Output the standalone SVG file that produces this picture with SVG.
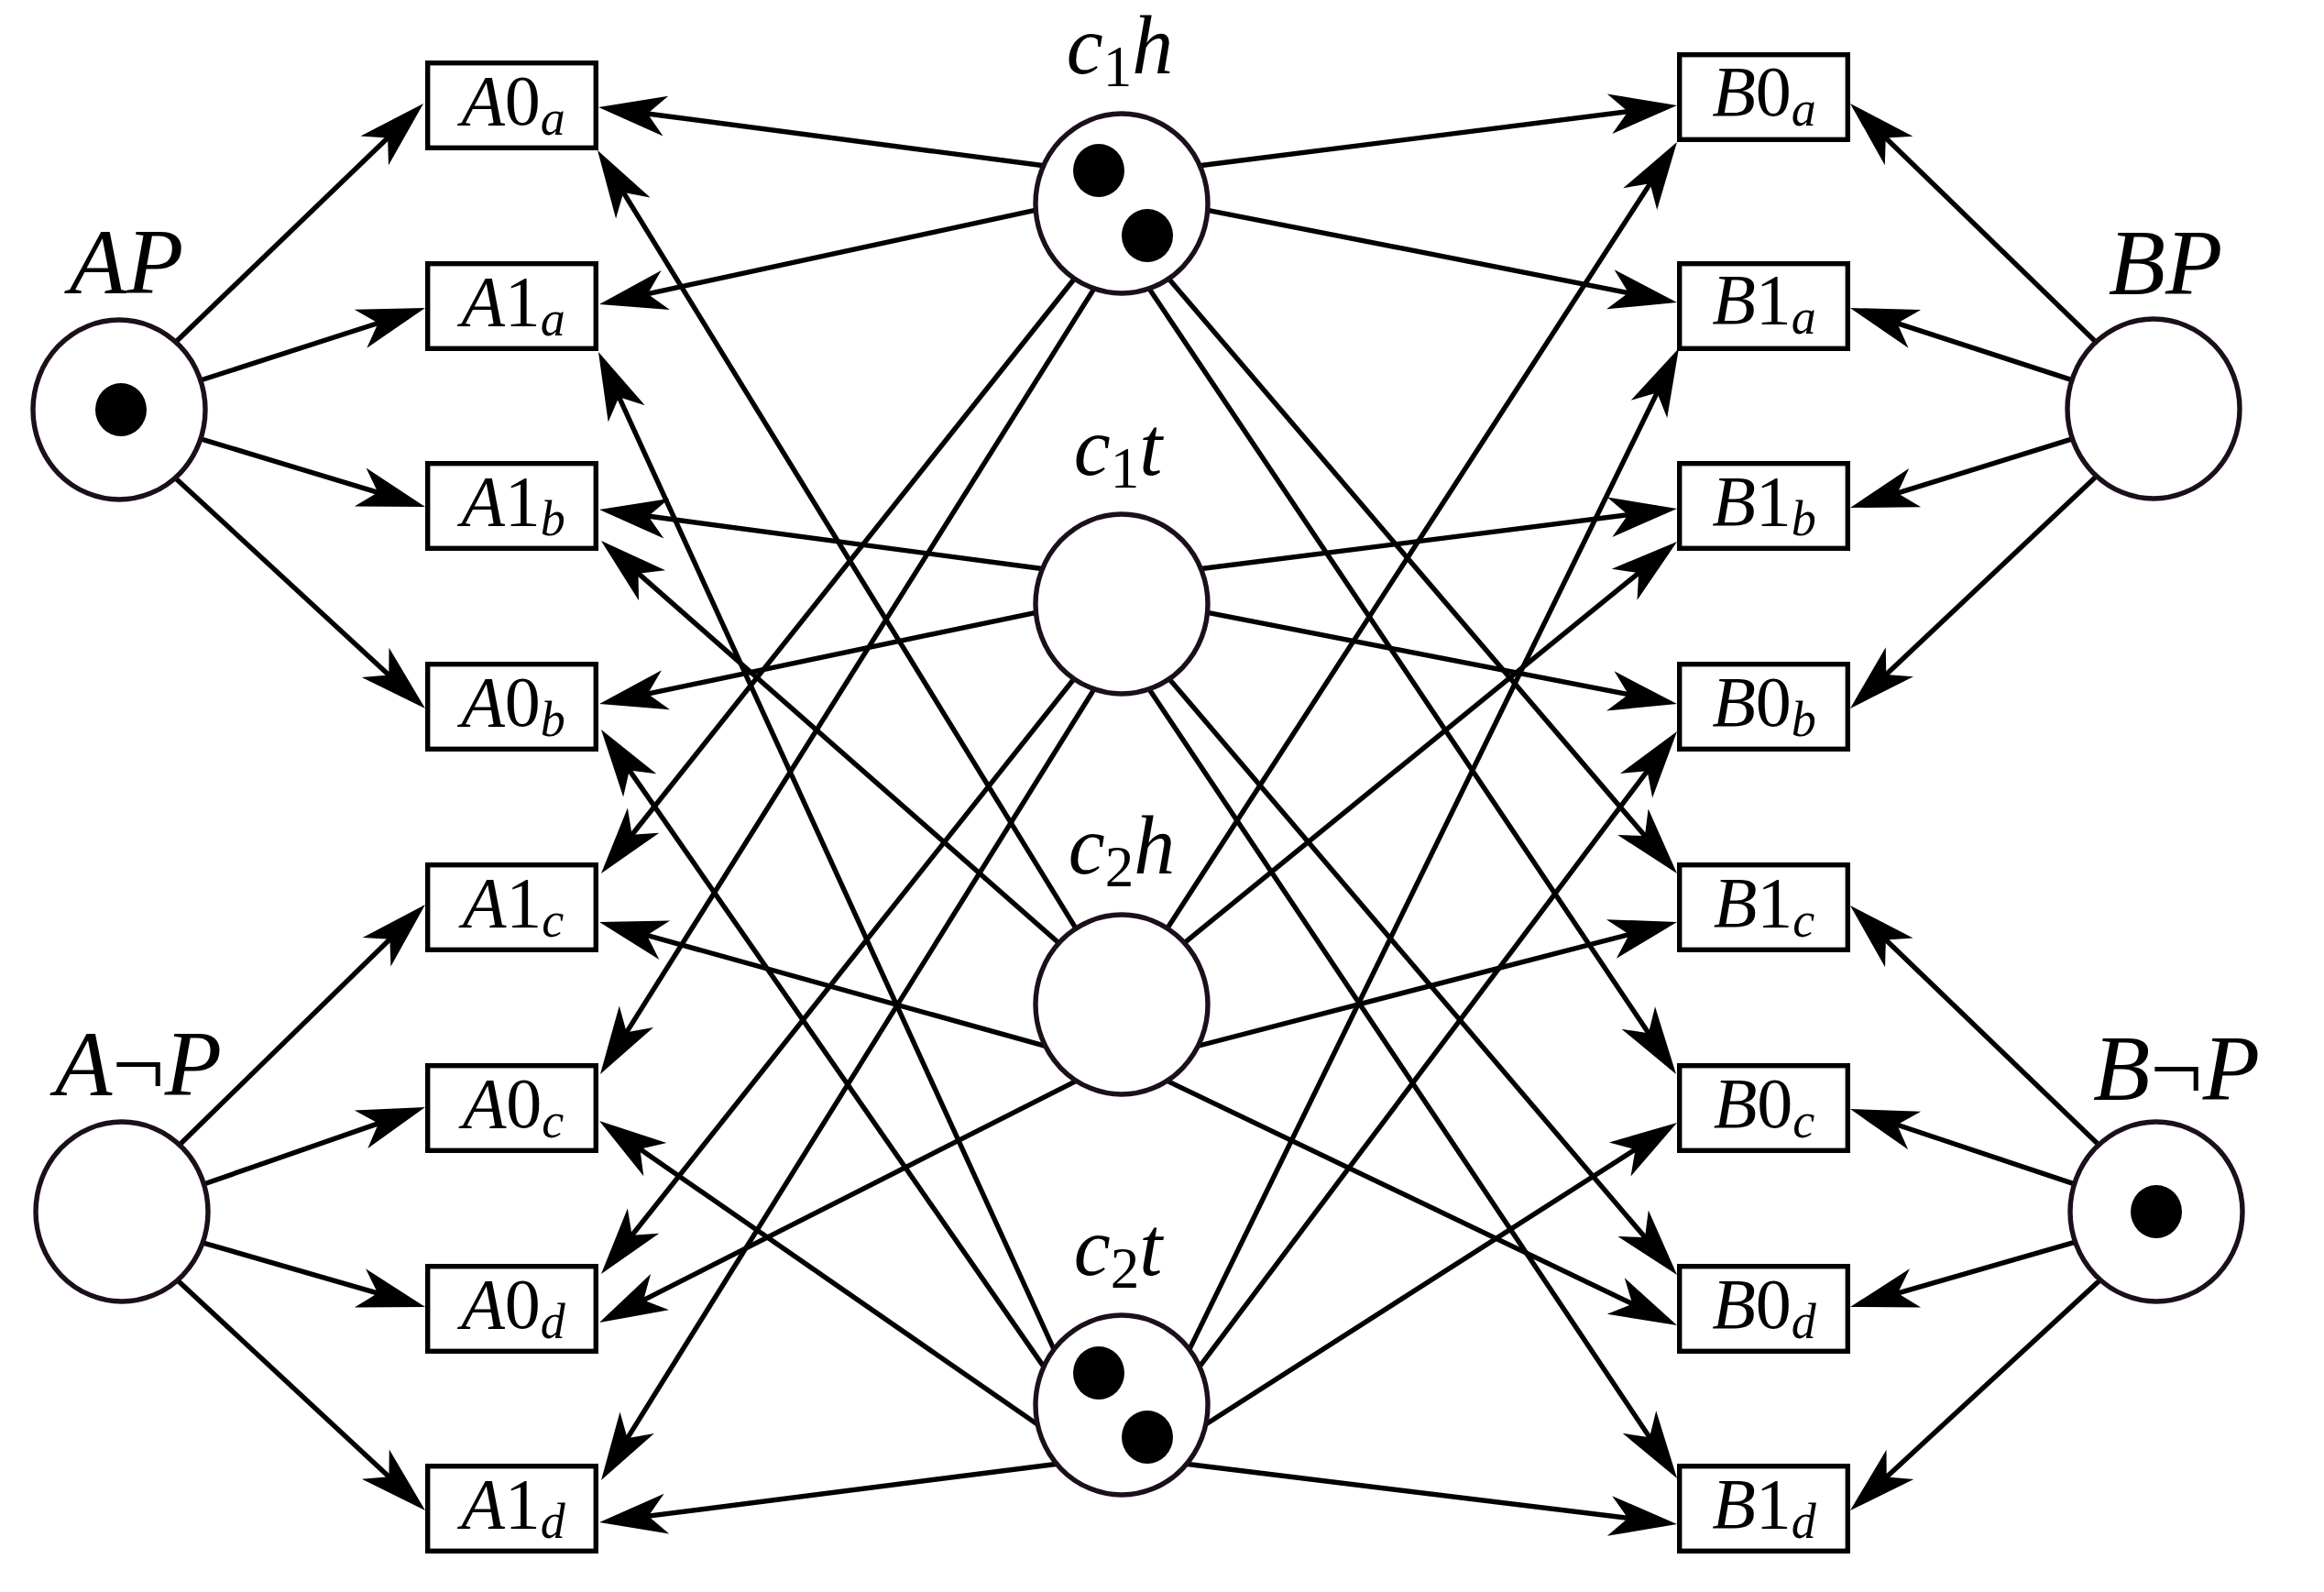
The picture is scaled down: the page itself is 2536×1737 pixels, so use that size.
<svg xmlns="http://www.w3.org/2000/svg" width="2536" height="1737" viewBox="0 0 2536 1737">
<defs>
<marker id="ah" viewBox="-40 -25 85 50" markerWidth="85" markerHeight="50" refX="0" refY="0" orient="auto" markerUnits="userSpaceOnUse"><path d="M40,0 L-34,-22 L-14,0 L-34,22 Z" fill="#000"/></marker>
</defs>
<style>
.e line{stroke:#000;stroke-width:5.4;fill:none;marker-end:url(#ah)}
.pl{fill:#fff;stroke:#1c0f1c;stroke-width:5.4}
.tr{fill:#fff;stroke:#000;stroke-width:5.4}
.tk{fill:#000}
text{font-family:"Liberation Serif","DejaVu Serif",serif;font-style:italic;text-anchor:middle;fill:#000}
.bl{font-size:78px}
.pt{font-size:102px}
.cl{font-size:90px}
.up{font-style:normal}
</style>
<rect width="2536" height="1737" fill="#fff"/>
<g id="connectors" class="e">
<line x1="191.7" y1="373.2" x2="433.2" y2="140.7"/>
<line x1="219.3" y1="414.8" x2="425.9" y2="348.3"/>
<line x1="217.3" y1="478.3" x2="425.7" y2="541.4"/>
<line x1="189.6" y1="519.9" x2="434.6" y2="745.9"/>
<line x1="194.7" y1="1250.2" x2="435.4" y2="1015"/>
<line x1="222.3" y1="1292" x2="426.2" y2="1221.1"/>
<line x1="219.2" y1="1355.3" x2="425.6" y2="1414.9"/>
<line x1="191.6" y1="1394.9" x2="434.7" y2="1620.8"/>
<line x1="2289.3" y1="375.2" x2="2047.7" y2="140.8"/>
<line x1="2261.7" y1="414.9" x2="2057" y2="348.4"/>
<line x1="2263.7" y1="478.2" x2="2057.2" y2="542.2"/>
<line x1="2289.4" y1="517.9" x2="2048.1" y2="745.5"/>
<line x1="2291.3" y1="1250.2" x2="2047.8" y2="1015.7"/>
<line x1="2263.7" y1="1291.9" x2="2056.9" y2="1222.7"/>
<line x1="2263.8" y1="1355.3" x2="2057.4" y2="1414.9"/>
<line x1="2291.4" y1="1396.9" x2="2048.4" y2="1620.9"/>
<line x1="1139" y1="180.8" x2="692.7" y2="122.2"/>
<line x1="1132.9" y1="228.7" x2="693.1" y2="323.6"/>
<line x1="1174.7" y1="301.3" x2="680.9" y2="921.7"/>
<line x1="1195.2" y1="312.9" x2="676.3" y2="1138.1"/>
<line x1="1309" y1="180.8" x2="1790.3" y2="120"/>
<line x1="1315.1" y1="228.8" x2="1790.7" y2="322.3"/>
<line x1="1273.1" y1="301.4" x2="1804" y2="922.6"/>
<line x1="1252.7" y1="313" x2="1806.7" y2="1138.8"/>
<line x1="1138.9" y1="620.8" x2="693.6" y2="561.3"/>
<line x1="1132.9" y1="667.8" x2="693.2" y2="759.8"/>
<line x1="1174.7" y1="737.3" x2="680.9" y2="1358.7"/>
<line x1="1195.2" y1="749.9" x2="677.2" y2="1581.1"/>
<line x1="1309" y1="620.8" x2="1790.3" y2="560"/>
<line x1="1315.1" y1="667.9" x2="1790.7" y2="760.4"/>
<line x1="1273.1" y1="737.4" x2="1804.1" y2="1360.6"/>
<line x1="1252.7" y1="750" x2="1807.8" y2="1579.8"/>
<line x1="1174.1" y1="1013.1" x2="673" y2="198.1"/>
<line x1="1155.5" y1="1029" x2="686" y2="616.4"/>
<line x1="1141.8" y1="1141.6" x2="692.5" y2="1016.7"/>
<line x1="1176.4" y1="1178.3" x2="689.7" y2="1424.9"/>
<line x1="1273.7" y1="1013" x2="1808.2" y2="188.6"/>
<line x1="1292.3" y1="1028.8" x2="1799" y2="616.3"/>
<line x1="1306.2" y1="1141.5" x2="1791.3" y2="1016"/>
<line x1="1271.6" y1="1178.4" x2="1793.9" y2="1428.7"/>
<line x1="1151.5" y1="1475.5" x2="669.6" y2="420.4"/>
<line x1="1139.4" y1="1491.9" x2="678.8" y2="828.9"/>
<line x1="1133.9" y1="1555.4" x2="686.9" y2="1245.8"/>
<line x1="1154" y1="1597.2" x2="693.7" y2="1655.9"/>
<line x1="1296.4" y1="1475.4" x2="1814.4" y2="415.9"/>
<line x1="1308.4" y1="1491.8" x2="1806" y2="830"/>
<line x1="1313.9" y1="1555.2" x2="1796.3" y2="1246.6"/>
<line x1="1294" y1="1597.3" x2="1790.3" y2="1658.1"/>
</g>
<g id="AP"><ellipse class="pl" cx="130" cy="447" rx="94" ry="98"/><ellipse class="tk" cx="132" cy="447" rx="28" ry="29"/><text class="pt" x="138" y="320">AP</text></g>
<g id="AnotP"><ellipse class="pl" cx="133" cy="1322" rx="94" ry="98"/><text class="pt" x="151" y="1195">A<tspan class="up">¬</tspan>P</text></g>
<g id="BP"><ellipse class="pl" cx="2350" cy="446" rx="94" ry="98"/><text class="pt" x="2363" y="321">BP</text></g>
<g id="BnotP"><ellipse class="pl" cx="2353" cy="1322" rx="94" ry="98"/><ellipse class="tk" cx="2353" cy="1322" rx="28" ry="29"/><text class="pt" x="2375" y="1200">B<tspan class="up">¬</tspan>P</text></g>
<g id="c1h"><ellipse class="pl" cx="1224" cy="222" rx="94" ry="98"/><ellipse class="tk" cx="1199" cy="186" rx="28" ry="29"/><ellipse class="tk" cx="1252" cy="257" rx="28" ry="29"/><text class="cl" x="1222" y="80">c<tspan class="up" font-size="63" dy="14">1</tspan><tspan dy="-14">h</tspan></text></g>
<g id="c1t"><ellipse class="pl" cx="1224" cy="659" rx="94" ry="98"/><text class="cl" x="1220" y="518">c<tspan class="up" font-size="63" dy="14">1</tspan><tspan dy="-14">t</tspan></text></g>
<g id="c2h"><ellipse class="pl" cx="1224" cy="1096" rx="94" ry="98"/><text class="cl" x="1224" y="953">c<tspan class="up" font-size="63" dy="14">2</tspan><tspan dy="-14">h</tspan></text></g>
<g id="c2t"><ellipse class="pl" cx="1224" cy="1533" rx="94" ry="98"/><ellipse class="tk" cx="1199" cy="1498" rx="28" ry="29"/><ellipse class="tk" cx="1252" cy="1568" rx="28" ry="29"/><text class="cl" x="1220" y="1391">c<tspan class="up" font-size="63" dy="14">2</tspan><tspan dy="-14">t</tspan></text></g>
<g id="A0a"><rect class="tr" x="466.7" y="68.7" width="183.6" height="92.6"/><text class="bl" x="560" y="136">A<tspan class="up">0</tspan><tspan font-size="54" dy="11">a</tspan></text></g>
<g id="A1a"><rect class="tr" x="466.7" y="287.7" width="183.6" height="92.6"/><text class="bl" x="560" y="355">A<tspan class="up">1</tspan><tspan font-size="54" dy="11">a</tspan></text></g>
<g id="A1b"><rect class="tr" x="466.7" y="505.7" width="183.6" height="92.6"/><text class="bl" x="560" y="573">A<tspan class="up">1</tspan><tspan font-size="54" dy="11">b</tspan></text></g>
<g id="A0b"><rect class="tr" x="466.7" y="724.7" width="183.6" height="92.6"/><text class="bl" x="560" y="792">A<tspan class="up">0</tspan><tspan font-size="54" dy="11">b</tspan></text></g>
<g id="A1c"><rect class="tr" x="466.7" y="943.7" width="183.6" height="92.6"/><text class="bl" x="560" y="1011">A<tspan class="up">1</tspan><tspan font-size="54" dy="11">c</tspan></text></g>
<g id="A0c"><rect class="tr" x="466.7" y="1162.7" width="183.6" height="92.6"/><text class="bl" x="560" y="1230">A<tspan class="up">0</tspan><tspan font-size="54" dy="11">c</tspan></text></g>
<g id="A0d"><rect class="tr" x="466.7" y="1381.7" width="183.6" height="92.6"/><text class="bl" x="560" y="1449">A<tspan class="up">0</tspan><tspan font-size="54" dy="11">d</tspan></text></g>
<g id="A1d"><rect class="tr" x="466.7" y="1599.7" width="183.6" height="92.6"/><text class="bl" x="560" y="1667">A<tspan class="up">1</tspan><tspan font-size="54" dy="11">d</tspan></text></g>
<g id="B0a"><rect class="tr" x="1832.7" y="59.7" width="183.6" height="92.6"/><text class="bl" x="1925" y="126">B<tspan class="up">0</tspan><tspan font-size="54" dy="11">a</tspan></text></g>
<g id="B1a"><rect class="tr" x="1832.7" y="287.7" width="183.6" height="92.6"/><text class="bl" x="1925" y="353">B<tspan class="up">1</tspan><tspan font-size="54" dy="11">a</tspan></text></g>
<g id="B1b"><rect class="tr" x="1832.7" y="505.7" width="183.6" height="92.6"/><text class="bl" x="1925" y="573">B<tspan class="up">1</tspan><tspan font-size="54" dy="11">b</tspan></text></g>
<g id="B0b"><rect class="tr" x="1832.7" y="724.7" width="183.6" height="92.6"/><text class="bl" x="1925" y="792">B<tspan class="up">0</tspan><tspan font-size="54" dy="11">b</tspan></text></g>
<g id="B1c"><rect class="tr" x="1832.7" y="943.7" width="183.6" height="92.6"/><text class="bl" x="1925" y="1011">B<tspan class="up">1</tspan><tspan font-size="54" dy="11">c</tspan></text></g>
<g id="B0c"><rect class="tr" x="1832.7" y="1162.7" width="183.6" height="92.6"/><text class="bl" x="1925" y="1230">B<tspan class="up">0</tspan><tspan font-size="54" dy="11">c</tspan></text></g>
<g id="B0d"><rect class="tr" x="1832.7" y="1381.7" width="183.6" height="92.6"/><text class="bl" x="1925" y="1449">B<tspan class="up">0</tspan><tspan font-size="54" dy="11">d</tspan></text></g>
<g id="B1d"><rect class="tr" x="1832.7" y="1599.7" width="183.6" height="92.6"/><text class="bl" x="1925" y="1667">B<tspan class="up">1</tspan><tspan font-size="54" dy="11">d</tspan></text></g>
</svg>
